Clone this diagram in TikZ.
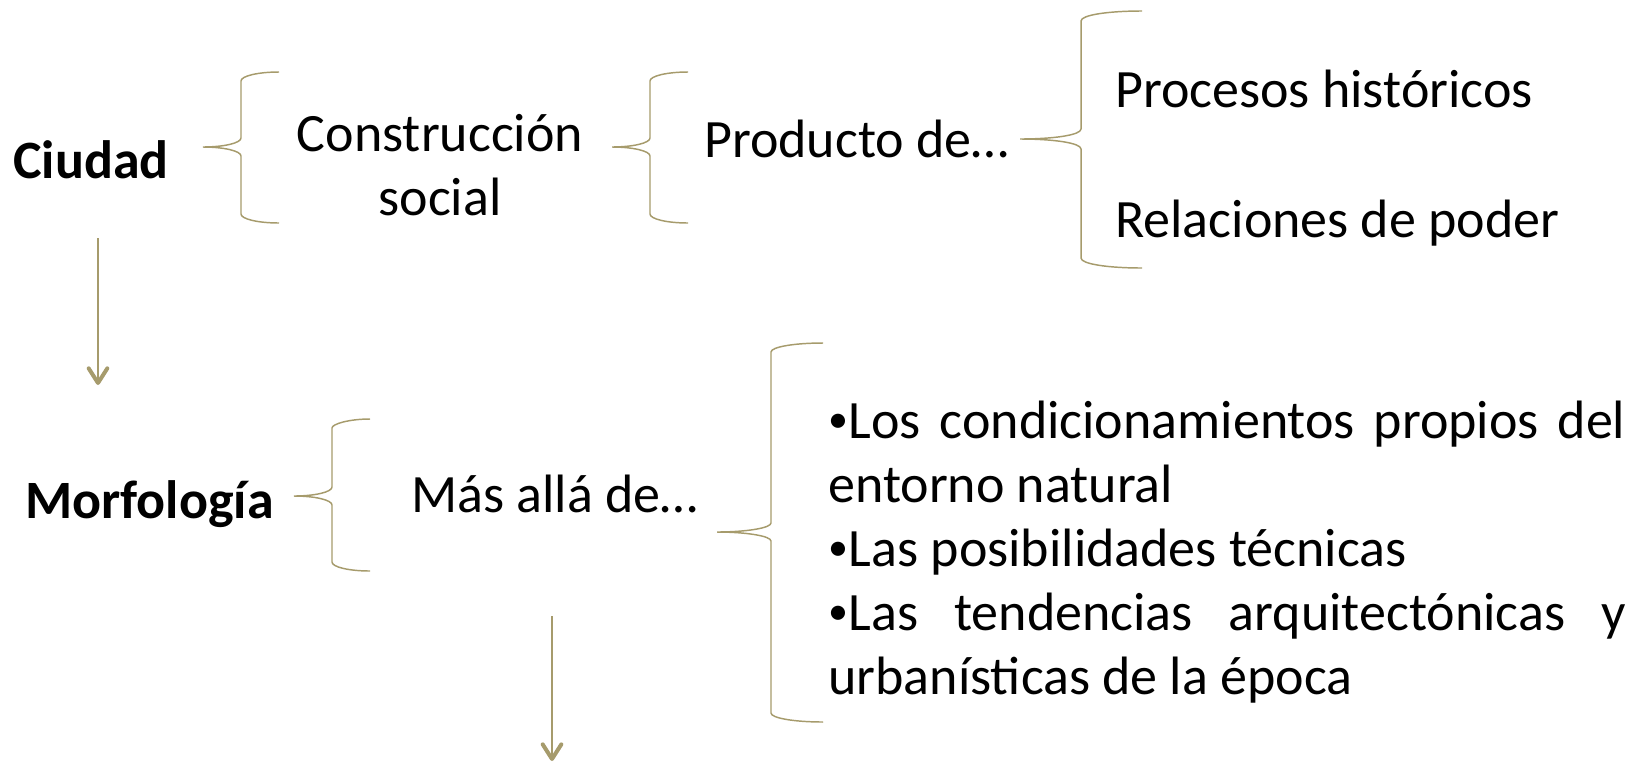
\documentclass[tikz,border=0pt]{standalone}
\usepackage{fontspec}
\setmainfont{Carlito}
\usetikzlibrary{arrows.meta}
\definecolor{olivebrace}{RGB}{166,155,108}
\setlength{\parindent}{0pt}
\newcommand{\smallbul}{\makebox[0.38em][l]{\raisebox{4pt}{\fontsize{30}{30}\selectfont •}}}

\begin{document}
\begin{tikzpicture}[x=0.75pt,y=0.75pt,yscale=-1,xscale=1,
  bracepath/.style={draw=olivebrace, line width=1.1pt},
  arrowline/.style={draw=olivebrace, line width=1.5pt, -{Straight Barb[length=11pt,width=14pt,line width=3pt,round]}},
  every node/.style={font=\fontsize{40.5}{48}\selectfont}]
  \useasboundingbox (0,0) rectangle (1640,765);

  %Shape: Brace
  \draw [bracepath] (279,72) .. controls (258,72) and (241,76) .. (241,81) -- (241,138) .. controls (241,143) and (224,147) .. (203,147) .. controls (224,147) and (241,151) .. (241,156) -- (241,214) .. controls (241,219) and (258,223) .. (279,223) ;
  %Shape: Brace
  \draw [bracepath] (688,72) .. controls (667,72) and (650,76) .. (650,81) -- (650,138) .. controls (650,143) and (633,147) .. (612,147) .. controls (633,147) and (650,151) .. (650,156) -- (650,214) .. controls (650,219) and (667,223) .. (688,223) ;
  %Shape: Brace
  \draw [bracepath] (1142,11) .. controls (1108,11) and (1081,15) .. (1081,21) -- (1081,129) .. controls (1081,135) and (1054,139) .. (1020,139) .. controls (1054,139) and (1081,143) .. (1081,149) -- (1081,258) .. controls (1081,264) and (1108,268) .. (1142,268) ;
  %Shape: Brace
  \draw [bracepath] (370,419) .. controls (349,419) and (332,424) .. (332,428) -- (332,487) .. controls (332,492) and (315,496) .. (294,496) .. controls (315,496) and (332,500) .. (332,505) -- (332,562) .. controls (332,567) and (349,571) .. (370,571) ;
  %Shape: Brace
  \draw [bracepath] (823,343) .. controls (794,343) and (771,347) .. (771,352) -- (771,523) .. controls (771,528) and (746,532) .. (717,532) .. controls (746,532) and (771,536) .. (771,541) -- (771,713) .. controls (771,718) and (794,722) .. (823,722) ;

  % Text Node
  \draw (13,178) node (ciudad) [anchor=base west][inner sep=0pt] [align=left] {\textbf{Ciudad}};
  % Text Node
  \draw (440,215) node (construccion) [anchor=base][inner sep=0pt] [align=center] {Construcción\\social};
  % Text Node
  \draw (704,157) node (producto) [anchor=base west][inner sep=0pt] [align=left] {Producto de…};
  % Text Node
  \draw (1115,107) node (procesos) [anchor=base west][inner sep=0pt] [align=left] {Procesos históricos};
  % Text Node
  \draw (1115,237) node (relaciones) [anchor=base west][inner sep=0pt] [align=left] {Relaciones de poder};
  % Text Node
  \draw (25,518) node (morfologia) [anchor=base west][inner sep=0pt] [align=left] {\textbf{Morfología}};
  % Text Node
  \draw (411,512) node (masalla) [anchor=base west][inner sep=0pt] [align=left] {Más allá de…};
  % Text Node
  \draw (828,438) node (factores) [anchor=base west][inner sep=0pt] [text width=598pt, align=justify] {\smallbul Los condicionamientos propios del\linebreak entorno natural\par \smallbul Las posibilidades técnicas\par \smallbul Las tendencias arquitectónicas y\linebreak urbanísticas de la época};

  %Straight Lines
  \coordinate (ciudaddown) at (98,238);
  \coordinate (morfotop) at (98,385);
  \draw [arrowline] (ciudaddown) -- (morfotop) ;
  %Straight Lines
  \coordinate (masdown) at (552,616);
  \coordinate (pagebottom) at (552,761);
  \draw [arrowline] (masdown) -- (pagebottom) ;

\end{tikzpicture}
\end{document}
